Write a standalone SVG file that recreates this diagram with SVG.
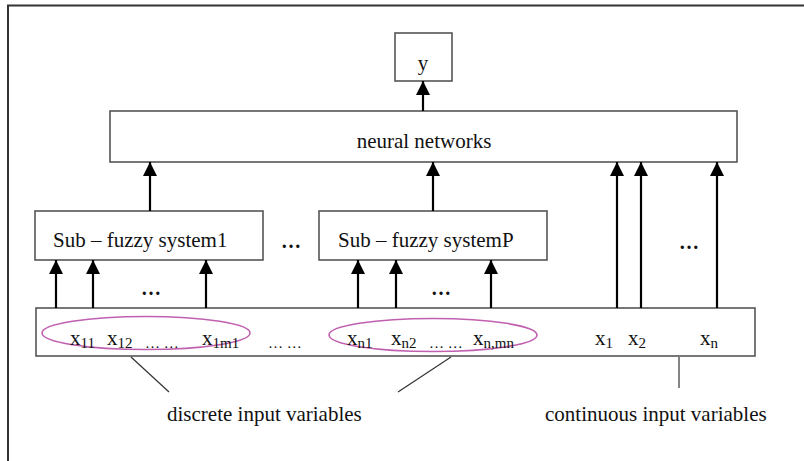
<svg xmlns="http://www.w3.org/2000/svg" width="804" height="461" viewBox="0 0 804 461">
<defs>
<style>
.box{fill:#fff;stroke:#555;stroke-width:1.6}
.t{font-family:"Liberation Serif","Times New Roman",serif;font-size:21px;fill:#111}
.s{font-size:15px}
.dots{font-family:"Liberation Serif",serif;font-size:20px;font-weight:bold;fill:#111}
.arr{stroke:#000;stroke-width:2.2;fill:none;marker-end:url(#ah)}
.ln{stroke:#333;stroke-width:1.2;fill:none}
.ell{fill:none;stroke:#c060b0;stroke-width:1.6}
</style>
<marker id="ah" markerUnits="userSpaceOnUse" markerWidth="14" markerHeight="16" viewBox="0 0 14 16" refX="14" refY="8" orient="auto">
<path d="M0,1 L14,8 L0,15 Z" fill="#000"/>
</marker>
</defs>
<path d="M8,461 V5.5 H804" fill="none" stroke="#333" stroke-width="2"/>
<g id="node-y"><rect class="box" x="395" y="33" width="57" height="48"/><text class="t" x="423" y="70" text-anchor="middle">y</text></g>
<g id="node-nn"><rect class="box" x="110" y="111" width="627" height="51"/><text class="t" x="424" y="148" text-anchor="middle">neural networks</text></g>
<g id="node-sub1"><rect class="box" x="35" y="211" width="228" height="49"/><text class="t" x="53" y="247">Sub – fuzzy system1</text></g>
<g id="node-subP"><rect class="box" x="319" y="211" width="228" height="49"/><text class="t" x="338" y="247">Sub – fuzzy systemP</text></g>
<g id="node-inputs"><rect class="box" x="36" y="308" width="719" height="48"/>
<ellipse class="ell" cx="146" cy="333" rx="104" ry="16.5"/>
<ellipse class="ell" cx="433" cy="335" rx="104" ry="16.5"/>
<text class="t" x="70" y="345">x<tspan class="s" dy="3">11</tspan></text>
<text class="t" x="107" y="345">x<tspan class="s" dy="3">12</tspan></text>
<text class="t s" x="145" y="348">… …</text>
<text class="t" x="202" y="345">x<tspan class="s" dy="3">1m1</tspan></text>
<text class="t s" x="268" y="348">… …</text>
<text class="t" x="347" y="345">x<tspan class="s" dy="3">n1</tspan></text>
<text class="t" x="391" y="345">x<tspan class="s" dy="3">n2</tspan></text>
<text class="t s" x="429" y="348">… …</text>
<text class="t" x="473" y="345">x<tspan class="s" dy="3">n,mn</tspan></text>
<text class="t" x="595" y="345">x<tspan class="s" dy="3">1</tspan></text>
<text class="t" x="628" y="345">x<tspan class="s" dy="3">2</tspan></text>
<text class="t" x="700" y="345">x<tspan class="s" dy="3">n</tspan></text>
</g>
<g id="dots">
<text class="dots" x="151" y="295" text-anchor="middle">…</text>
<text class="dots" x="291" y="248" text-anchor="middle">…</text>
<text class="dots" x="441" y="295" text-anchor="middle">…</text>
<text class="dots" x="689" y="249" text-anchor="middle">…</text>
</g>
<g id="labels">
<text class="t" x="167" y="421">discrete input variables</text>
<text class="t" x="545" y="421">continuous input variables</text>
</g>
<g id="connectors">
<line class="arr" x1="423" y1="111" x2="423" y2="81"/>
<line class="arr" x1="150" y1="211" x2="150" y2="162"/>
<line class="arr" x1="433" y1="211" x2="433" y2="162"/>
<line class="arr" x1="617" y1="308" x2="617" y2="162"/>
<line class="arr" x1="641" y1="308" x2="641" y2="162"/>
<line class="arr" x1="717" y1="308" x2="717" y2="162"/>
<line class="arr" x1="56" y1="308" x2="56" y2="260"/>
<line class="arr" x1="93" y1="308" x2="93" y2="260"/>
<line class="arr" x1="206" y1="308" x2="206" y2="260"/>
<line class="arr" x1="358" y1="308" x2="358" y2="260"/>
<line class="arr" x1="396" y1="308" x2="396" y2="260"/>
<line class="arr" x1="491" y1="308" x2="491" y2="260"/>
<line class="ln" x1="131" y1="357" x2="169" y2="392"/>
<line class="ln" x1="451" y1="357" x2="398" y2="392"/>
<line class="ln" x1="679" y1="357" x2="679" y2="388"/>
</g>
</svg>
